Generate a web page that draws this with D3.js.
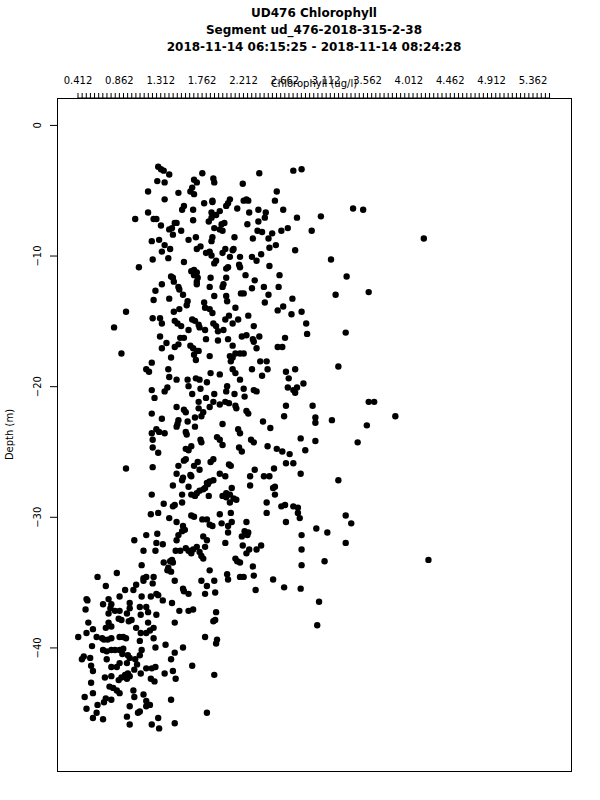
<!DOCTYPE html>
<html>
<head>
<meta charset="utf-8">
<script src="https://cdn.jsdelivr.net/npm/d3@7"></script>
<style>
  body { margin: 0; background: #fff; }
  svg text { font-family: "DejaVu Sans", sans-serif; fill: #000; }
</style>
</head>
<body>
<div id="canvas"></div>
<script>
// ---- ---- TEXT ---- ----
var titles = ['UD476 Chlorophyll',
              'Segment ud_476-2018-315-2-38',
              '2018-11-14 06:15:25 - 2018-11-14 08:24:28'];
var xLabel = 'Chlorophyll (ug/l)',
    yLabel = 'Depth (m)';

// ---- ---- AXIS VALUES ---- ----
var xTickStart = 0.412, xTickStep = 0.045, xTickCount = 115;   // label every 10th tick
var yTicks = [0, -10, -20, -30, -40];
var xDomain = [0.189, 5.781],
    yDomain = [-49.46, 2.06];

// ---- ---- SAMPLES [chlorophyll, depth] ---- ----
var upper = [
[1.29,-3.2],[1.32,-3.4],[1.35,-3.5],[1.41,-3.8],[1.28,-4.3],[1.36,-4.4],[1.18,-5.1],[1.36,-5.7],[1.51,-5.2],[1.68,-4.2],
[1.71,-4.4],[1.66,-4.8],[1.64,-5.1],[1.68,-5.3],[1.77,-3.7],[1.89,-4.1],[1.90,-4.4],[2.21,-4.5],[2.39,-3.7],[2.76,-3.5],
[2.85,-3.4],[2.58,-5.1],[2.56,-5.8],[2.65,-6.5],[2.38,-6.5],[2.46,-6.7],[2.28,-6.7],[2.45,-7.1],[2.38,-7.4],[2.25,-5.7],
[2.27,-5.8],[2.22,-5.8],[2.15,-6.4],[2.07,-5.7],[2.05,-6.0],[2.03,-6.2],[1.88,-5.8],[1.88,-5.9],[1.79,-6.0],[1.67,-6.5],
[1.57,-6.2],[1.55,-6.5],[1.87,-6.7],[1.96,-6.6],[1.92,-6.9],[1.84,-7.4],[1.87,-7.1],[1.98,-7.6],[2.01,-7.5],[1.96,-8.0],
[1.99,-8.1],[1.90,-7.9],[1.67,-7.3],[1.47,-7.5],[1.49,-7.5],[1.44,-7.9],[1.41,-8.0],[1.45,-8.4],[1.54,-8.1],[1.32,-7.7],
[1.24,-7.2],[1.27,-7.2],[1.04,-7.2],[1.18,-6.7],[1.62,-8.8],[1.70,-8.6],[1.88,-8.6],[1.87,-8.9],[2.12,-8.6],[2.32,-8.7],
[2.42,-8.2],[2.49,-8.7],[2.53,-8.3],[2.63,-8.1],[2.70,-7.9],[2.80,-7.1],[3.06,-7.0],[2.96,-8.1],[2.26,-7.6],[2.37,-8.1],
[1.22,-8.9],[1.30,-8.8],[1.36,-9.2],[1.33,-9.7],[1.42,-9.5],[1.23,-10.3],[1.40,-10.2],[1.57,-10.5],[1.71,-9.5],[1.75,-9.3],
[1.81,-9.8],[1.87,-10.0],[1.85,-9.7],[1.90,-10.6],[1.92,-10.4],[2.02,-9.5],[1.99,-9.8],[2.07,-10.1],[2.10,-9.6],[2.11,-9.5],
[2.18,-10.1],[2.31,-10.1],[2.41,-9.9],[2.36,-10.4],[2.57,-9.2],[2.50,-9.4],[2.78,-9.6],[2.50,-10.8],[2.17,-10.7],[2.18,-10.9],
[2.05,-10.9],[2.03,-11.0],[1.08,-10.9],[1.68,-11.1],[1.65,-11.2],[1.71,-11.3],[1.68,-11.5],[1.72,-11.7],[1.71,-12.0],[1.71,-12.2],
[1.43,-11.6],[1.45,-11.7],[1.46,-12.0],[1.86,-11.7],[1.85,-12.4],[2.03,-11.7],[2.00,-12.2],[1.99,-12.4],[2.24,-11.5],[2.34,-11.9],
[2.31,-12.5],[2.44,-12.4],[2.49,-13.0],[2.61,-11.5],[2.60,-12.4],[3.17,-10.3],[3.22,-13.0],[1.33,-12.2],[1.51,-12.4],[1.52,-12.6],
[1.56,-13.0],[1.26,-12.7],[1.24,-13.4],[1.41,-13.3],[1.60,-13.8],[1.61,-13.5],[1.79,-13.6],[1.80,-14.0],[1.85,-14.1],[1.88,-14.4],
[1.90,-13.1],[2.03,-13.1],[2.04,-13.5],[2.13,-14.0],[2.19,-12.9],[2.22,-12.9],[2.45,-13.6],[2.59,-14.2],[2.65,-13.9],[2.75,-13.3],
[2.74,-14.5],[2.85,-14.3],[2.90,-15.2],[2.91,-16.0],[0.94,-14.3],[0.81,-15.5],[0.89,-17.5],[1.23,-14.8],[1.31,-14.8],[1.33,-15.2],
[1.46,-14.3],[1.47,-15.0],[1.50,-15.2],[1.54,-15.4],[1.52,-14.1],[1.66,-14.9],[1.69,-15.0],[1.73,-15.3],[1.74,-15.5],[1.80,-15.7],
[1.89,-15.2],[1.92,-15.4],[1.94,-15.8],[2.00,-15.7],[2.02,-14.9],[2.06,-14.6],[2.10,-15.2],[2.16,-14.9],[2.27,-14.6],[2.33,-15.4],
[2.25,-16.1],[2.20,-16.2],[2.10,-16.9],[2.05,-16.4],[1.94,-16.5],[1.81,-16.4],[1.57,-16.3],[1.53,-16.3],[1.62,-15.7],[1.31,-16.2],
[1.38,-16.7],[1.33,-17.1],[1.47,-17.0],[1.51,-16.8],[1.64,-16.9],[1.67,-17.1],[1.71,-17.3],[1.68,-17.6],[1.70,-18.0],[1.73,-17.3],
[1.85,-17.7],[2.07,-17.7],[2.10,-17.8],[2.18,-17.5],[2.22,-17.5],[2.13,-17.5],[2.08,-18.1],[2.32,-16.4],[2.36,-17.1],[2.39,-16.2],
[2.33,-16.6],[2.59,-17.0],[2.64,-17.0],[2.67,-16.3],[2.31,-18.7],[2.40,-18.1],[2.47,-18.1],[2.48,-18.7],[2.42,-19.2],[2.68,-18.9],
[2.71,-19.4],[2.78,-18.7],[2.70,-20.1],[2.76,-20.3],[2.80,-20.1],[2.87,-19.8],[1.43,-17.8],[1.22,-18.2],[1.16,-18.7],[1.19,-18.9],
[1.40,-18.7],[1.41,-19.3],[1.49,-19.5],[1.61,-19.5],[1.70,-19.4],[1.74,-19.5],[1.82,-19.7],[1.86,-19.0],[1.96,-19.1],[2.10,-18.7],
[2.18,-19.5],[2.13,-19.0],[1.39,-20.1],[1.36,-20.4],[1.22,-20.3],[1.25,-20.9],[1.62,-20.0],[1.66,-20.6],[1.75,-20.2],[1.81,-20.9],
[1.90,-20.6],[2.04,-20.0],[2.03,-20.4],[2.12,-20.6],[2.22,-20.2],[2.23,-20.8],[2.33,-20.3],[2.36,-20.4],[2.78,-20.5],[3.25,-18.5]
];

var outliers = [
[3.41,-6.4],[3.52,-6.5],[4.18,-8.7],[3.34,-11.6],[3.58,-12.8],[3.33,-15.9],[3.58,-21.2],[3.64,-21.2],[3.87,-22.3],[3.56,-23.0],
[3.46,-24.3],[3.33,-29.9],[3.39,-30.5],[3.33,-32.0],[4.23,-33.3]
];

var middle = [
[1.49,-21.6],[1.57,-21.8],[1.59,-22.0],[1.73,-21.7],[1.78,-22.0],[1.76,-22.3],[1.85,-21.6],[1.96,-21.4],[2.02,-21.2],[2.06,-21.3],
[2.13,-21.5],[2.14,-21.7],[2.25,-21.9],[2.27,-22.1],[2.68,-21.5],[2.97,-21.5],[2.66,-22.3],[3.00,-22.4],[3.00,-22.8],[3.18,-22.6],
[2.43,-22.7],[2.51,-23.2],[1.99,-22.9],[1.69,-22.4],[1.61,-22.7],[1.51,-22.6],[1.50,-22.9],[1.49,-23.1],[1.22,-22.1],[1.33,-22.5],
[1.73,-21.2],[1.89,-21.2],[1.22,-23.6],[1.27,-23.3],[1.30,-23.5],[1.36,-23.6],[1.23,-24.1],[1.23,-24.7],[1.29,-25.1],[1.59,-23.5],
[1.60,-23.7],[1.69,-23.1],[1.75,-24.1],[1.76,-24.3],[1.93,-23.9],[1.96,-24.1],[1.99,-24.5],[2.16,-23.3],[2.18,-23.6],[2.17,-24.7],
[2.20,-25.0],[2.30,-24.1],[2.33,-24.3],[2.48,-24.6],[2.58,-24.8],[2.64,-25.0],[2.72,-25.2],[2.84,-24.0],[2.89,-24.9],[3.00,-24.2],
[1.59,-24.8],[1.62,-24.9],[1.65,-24.6],[1.89,-25.6],[1.86,-25.8],[1.72,-25.8],[1.68,-26.1],[1.59,-25.6],[1.57,-25.7],[1.51,-26.1],
[1.49,-26.7],[1.55,-27.2],[1.56,-27.0],[1.62,-27.7],[1.23,-26.2],[0.94,-26.3],[1.45,-27.6],[1.64,-26.8],[1.65,-26.9],[1.74,-26.4],
[1.82,-27.4],[1.85,-27.3],[1.89,-27.2],[1.83,-27.5],[1.96,-26.7],[2.02,-26.9],[2.06,-26.0],[2.08,-26.1],[2.29,-27.6],[2.29,-26.9],
[2.34,-26.4],[2.44,-26.9],[2.50,-26.9],[2.55,-26.3],[2.68,-25.9],[2.76,-25.9],[2.84,-26.7],[2.54,-27.8],[2.56,-27.7],[2.56,-28.3],
[2.47,-28.9],[2.47,-29.7],[2.63,-29.2],[2.67,-29.1],[2.76,-29.2],[2.81,-29.3],[2.81,-29.7],[2.83,-30.1],[2.68,-30.4],[2.85,-31.4],
[3.01,-30.9],[3.13,-31.2],[3.25,-27.2],[1.65,-28.3],[1.71,-28.2],[1.74,-28.0],[1.78,-27.9],[1.80,-27.8],[1.84,-28.4],[1.69,-28.4],
[1.99,-28.4],[2.03,-28.2],[2.07,-28.3],[2.09,-27.8],[2.11,-28.6],[2.14,-28.7],[2.07,-28.9],[2.03,-28.5],[1.55,-28.3],[1.55,-28.9],
[1.65,-29.9],[1.68,-30.0],[1.82,-30.2],[1.85,-30.6],[1.88,-30.7],[1.77,-30.2],[1.96,-29.8],[1.98,-30.5],[2.08,-29.7],[2.09,-30.4],
[2.25,-30.4],[2.23,-31.1],[2.27,-31.2],[2.26,-31.4],[2.05,-30.7],[2.05,-31.2],[1.49,-30.4],[1.56,-30.7],[1.58,-31.0],[1.55,-31.1],
[1.51,-31.4],[1.49,-31.8],[1.78,-31.5],[1.82,-31.8],[1.80,-32.3],[1.71,-32.3],[1.74,-32.7],[1.76,-33.0],[1.78,-33.2],[1.67,-32.5],
[1.62,-32.6],[1.65,-32.8],[1.59,-32.4],[1.53,-32.6],[1.48,-32.6],[1.44,-33.3],[1.42,-33.4],[1.45,-33.5],[1.40,-33.9],[1.43,-34.2],
[1.39,-34.1],[1.35,-33.5],[1.34,-32.1],[1.27,-32.0],[1.26,-32.6],[1.13,-32.6],[1.11,-33.7],[1.03,-31.8],[1.16,-31.4],[1.41,-30.1],
[1.45,-29.2],[1.47,-29.1],[1.35,-29.0],[1.29,-29.7],[1.21,-29.8],[1.22,-28.3],[1.28,-31.3],[1.47,-34.9],[1.56,-35.5],[1.57,-35.7],
[1.62,-35.9],[1.85,-34.1],[1.76,-34.9],[1.82,-35.3],[1.80,-35.9],[1.91,-35.8],[1.90,-34.9],[2.04,-34.4],[2.05,-34.8],[2.18,-34.6],
[2.22,-34.6],[2.33,-34.5],[2.35,-35.6],[2.32,-33.8],[2.25,-32.8],[2.28,-32.5],[2.15,-33.4],[2.18,-33.5],[2.13,-33.2],[2.21,-32.2],
[2.02,-32.0],[2.36,-32.5],[2.41,-32.2],[2.54,-34.8],[2.66,-35.4],[2.84,-35.5],[2.85,-32.5],[2.85,-33.7],[3.10,-33.4],[3.04,-36.5],
[3.02,-38.3],[2.20,-31.5]
];

var lower = [
[0.63,-34.6],[0.72,-35.3],[0.84,-34.3],[0.51,-36.3],[0.52,-36.4],[0.50,-37.1],[0.53,-38.1],[0.58,-38.6],[0.62,-39.2],[0.42,-39.2],
[0.51,-38.9],[0.57,-39.9],[0.69,-40.2],[0.73,-40.3],[0.78,-40.2],[0.82,-40.2],[0.87,-40.2],[0.91,-40.1],[0.48,-40.7],[0.46,-40.9],
[0.55,-40.8],[0.56,-41.4],[0.58,-41.8],[0.56,-42.7],[0.49,-43.8],[0.58,-43.5],[0.51,-44.7],[0.58,-45.4],[0.62,-45.0],[0.69,-45.5],
[0.63,-44.4],[0.70,-44.2],[0.72,-43.9],[0.78,-44.0],[0.68,-39.3],[0.74,-39.4],[0.78,-39.3],[0.87,-39.2],[0.91,-39.2],[0.94,-39.3],
[0.73,-40.9],[0.78,-41.5],[0.78,-42.2],[0.71,-42.3],[0.76,-43.0],[0.80,-43.1],[0.84,-43.3],[0.87,-43.5],[0.86,-42.5],[0.89,-42.3],
[0.93,-42.1],[0.96,-42.0],[0.84,-41.5],[0.87,-41.2],[0.95,-41.2],[0.90,-40.5],[0.96,-40.6],[0.98,-40.8],[1.04,-40.9],[1.06,-41.3],
[1.09,-40.6],[1.11,-40.2],[1.09,-39.5],[1.10,-38.9],[1.16,-38.9],[1.20,-38.7],[1.24,-38.5],[1.18,-38.1],[1.16,-36.9],[1.10,-37.5],
[1.05,-38.5],[1.00,-37.9],[0.97,-38.0],[0.95,-37.4],[0.89,-37.9],[0.86,-37.8],[0.87,-37.2],[0.82,-37.2],[0.77,-37.0],[0.75,-37.4],
[0.75,-38.1],[0.78,-38.4],[0.69,-36.7],[0.75,-36.3],[0.78,-36.7],[0.87,-36.1],[0.93,-35.6],[0.98,-36.6],[0.98,-37.0],[1.02,-35.6],
[1.05,-35.2],[1.13,-34.7],[1.16,-34.6],[1.24,-34.6],[1.23,-35.1],[1.13,-34.9],[1.21,-36.1],[1.27,-35.9],[1.29,-36.0],[1.34,-36.4],
[1.44,-36.6],[1.11,-36.1],[1.09,-36.9],[1.18,-37.3],[1.27,-37.5],[1.24,-39.3],[1.26,-40.0],[1.37,-39.8],[1.47,-38.1],[1.52,-37.2],
[1.62,-37.2],[1.67,-37.1],[1.92,-37.3],[1.89,-38.0],[1.91,-37.9],[1.80,-39.2],[1.93,-39.4],[1.92,-39.7],[1.56,-40.0],[1.47,-40.4],
[1.43,-40.9],[1.45,-41.8],[1.48,-42.4],[1.36,-42.0],[1.26,-41.5],[1.22,-41.6],[1.16,-41.6],[1.21,-42.4],[1.25,-42.6],[1.10,-42.0],
[1.03,-41.7],[0.98,-42.2],[0.95,-42.4],[1.02,-43.3],[1.03,-43.8],[1.13,-43.6],[1.16,-44.1],[1.20,-44.4],[1.16,-44.5],[1.09,-44.9],
[1.07,-45.0],[0.98,-44.5],[0.95,-45.3],[0.98,-45.9],[1.22,-45.9],[1.30,-46.2],[1.47,-45.8],[1.43,-44.0],[1.29,-45.4],[1.82,-45.0],
[1.66,-41.4],[1.90,-42.1],[0.72,-38.5],[0.70,-39.4]
];

var samples = upper.concat(outliers, middle, lower);


//---- ---- MARGIN CONVENTION ---- ----
var outerWidth = 600, outerHeight = 800;
var m = {t:98, r:29, b:29, l:57};
var w = outerWidth - m.l - m.r,
    h = outerHeight - m.t - m.b;

var svg = d3.select('#canvas')
    .append('svg')
    .attr('width', outerWidth)
    .attr('height', outerHeight);

var plot = svg.append('g')
    .attr('transform', 'translate(' + m.l + ',' + m.t + ')');


//---- ---- SCALES ---- ----
var scaleX = d3.scaleLinear().domain(xDomain).range([0, w]);
var scaleY = d3.scaleLinear().domain(yDomain).range([h, 0]);


//---- ---- TITLES ---- ----
svg.selectAll('.title')
    .data(titles)
    .enter()
    .append('text')
    .attr('class', 'title')
    .attr('x', m.l + w / 2)
    .attr('y', function(d, i){ return 17 + i * 17; })
    .attr('text-anchor', 'middle')
    .style('font-size', '12px')
    .style('font-weight', 'bold')
    .text(function(d){ return d; });


//---- ---- AXES ---- ----
var xTickValues = d3.range(xTickCount).map(function(i){ return xTickStart + i * xTickStep; });

var axisX = d3.axisTop(scaleX)
    .tickValues(xTickValues)
    .tickSize(5)
    .tickSizeOuter(0)
    .tickPadding(9)
    .tickFormat(function(d, i){ return i % 10 === 0 ? d3.format('.3f')(d) : ''; });

var gx = plot.append('g').attr('class', 'axis axis-x').call(axisX);
gx.select('.domain')
    .attr('d', 'M' + scaleX(xTickValues[0]) + ',0H' + scaleX(xTickValues[xTickValues.length - 1]));
gx.selectAll('text').style('font-size', '10px').style('font-family', '"DejaVu Sans", sans-serif');

var axisY = d3.axisLeft(scaleY)
    .tickValues(yTicks)
    .tickSize(7)
    .tickSizeOuter(0)
    .tickFormat(d3.format('d'));

var gy = plot.append('g').attr('class', 'axis axis-y').call(axisY);
gy.select('.domain').remove();
gy.selectAll('text')
    .attr('transform', 'rotate(-90)')
    .attr('x', 0)
    .attr('y', -16)
    .attr('dy', 0)
    .attr('text-anchor', 'middle')
    .style('font-size', '10px')
    .style('font-family', '"DejaVu Sans", sans-serif');

// axis titles (x title sits over the tick labels, as in the original)
svg.append('text')
    .attr('x', m.l + w / 2)
    .attr('y', 87)
    .attr('text-anchor', 'middle')
    .style('font-size', '10px')
    .text(xLabel);

svg.append('text')
    .attr('transform', 'translate(13,' + (m.t + h / 2) + ') rotate(-90)')
    .attr('text-anchor', 'middle')
    .style('font-size', '10px')
    .text(yLabel);


//---- ---- BOX ---- ----
plot.append('rect')
    .attr('x', 0.5)
    .attr('y', 0.5)
    .attr('width', w)
    .attr('height', h)
    .style('fill', 'none')
    .style('stroke', '#000');


//---- ---- POINTS ---- ----
plot.selectAll('circle')
    .data(samples)
    .enter()
    .append('circle')
    .attr('cx', function(d){ return scaleX(d[0]); })
    .attr('cy', function(d){ return scaleY(d[1]); })
    .attr('r', 3.2)
    .style('fill', '#000');
</script>
</body>
</html>
